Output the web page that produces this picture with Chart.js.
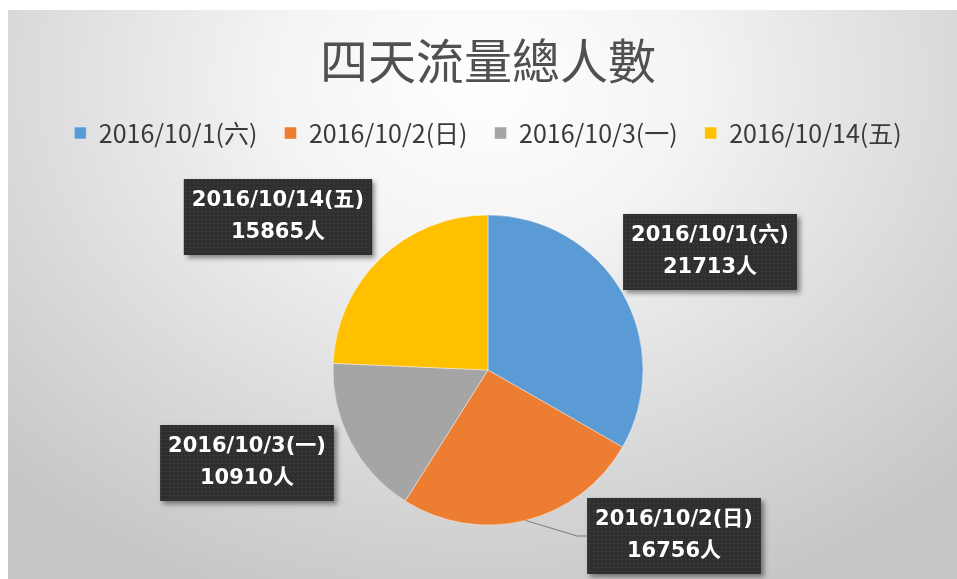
<!DOCTYPE html>
<html>
<head>
<meta charset="utf-8">
<script src="https://cdn.jsdelivr.net/npm/chart.js@4/dist/chart.umd.min.js"></script>
<style>
html, body { margin: 0; padding: 0; overflow: hidden; background: #fff; }
#wrap {
  position: absolute; left: 8px; top: 10px; width: 949px; height: 600px;
  background: radial-gradient(ellipse 72% 92% at 50% 12%, #ffffff 0%, #f4f4f4 30%, #d9d9d9 70%, #c6c6c6 100%);
}
</style>
</head>
<body>
<div id="wrap"><canvas id="chart"></canvas></div>
<script>
const days = ["2016/10/1(六)", "2016/10/2(日)", "2016/10/3(一)", "2016/10/14(五)"];
const visitors = [21713, 16756, 10910, 15865];
const sliceColors = ["#5b9bd5", "#ed7d31", "#a5a5a5", "#ffc000"];
const unit = "人";

// dotted texture for the dark label boxes
function dotPattern(ctx) {
  const c = document.createElement("canvas");
  c.width = 4; c.height = 4;
  const g = c.getContext("2d");
  g.fillStyle = "rgba(255,255,255,0.13)";
  g.fillRect(1, 1, 1, 1);
  return ctx.createPattern(c, "repeat");
}

const callouts = {
  id: "callouts",
  afterDatasetsDraw(chart, args, opts) {
    const ctx = chart.ctx;
    const meta = chart.getDatasetMeta(0);
    const pattern = dotPattern(ctx);
    meta.data.forEach((arc, i) => {
      const p = arc.getProps(["x", "y", "startAngle", "endAngle", "outerRadius"], true);
      const cx = p.x + opts.offsets[i][0];
      const cy = p.y + opts.offsets[i][1];
      const line1 = chart.data.labels[i];
      const line2 = chart.data.datasets[0].data[i] + unit;
      ctx.save();
      ctx.font = opts.font;
      const w = Math.max(ctx.measureText(line1).width, ctx.measureText(line2).width) + 16;
      const h = 76;
      if (opts.leaders[i]) {
        const mid = (p.startAngle + p.endAngle) / 2;
        const sx = p.x + Math.cos(mid) * p.outerRadius;
        const sy = p.y + Math.sin(mid) * p.outerRadius;
        ctx.strokeStyle = "#7a7a7a";
        ctx.lineWidth = 1;
        ctx.beginPath();
        ctx.moveTo(sx, sy);
        ctx.lineTo(cx - w / 2 - 10, cy);
        ctx.lineTo(cx - w / 2, cy);
        ctx.stroke();
      }
      ctx.shadowColor = "rgba(0,0,0,0.45)";
      ctx.shadowBlur = 5;
      ctx.shadowOffsetX = 3;
      ctx.shadowOffsetY = 3;
      ctx.fillStyle = "#2f2f2f";
      ctx.fillRect(cx - w / 2, cy - h / 2, w, h);
      ctx.shadowColor = "transparent";
      ctx.fillStyle = pattern;
      ctx.fillRect(cx - w / 2, cy - h / 2, w, h);
      ctx.fillStyle = "#ffffff";
      ctx.textAlign = "center";
      ctx.textBaseline = "middle";
      ctx.fillText(line1, cx, cy - 16);
      ctx.fillText(line2, cx, cy + 16);
      ctx.restore();
    });
  }
};

new Chart(document.getElementById("chart"), {
  type: "pie",
  data: {
    labels: days,
    datasets: [{
      data: visitors,
      backgroundColor: sliceColors,
      borderColor: "rgba(255,255,255,0.4)",
      borderWidth: 1,
      radius: 155
    }]
  },
  options: {
    responsive: true,
    maintainAspectRatio: false,
    animation: false,
    layout: { padding: { left: 11, right: 0, top: 0, bottom: 25.6 } },
    plugins: {
      title: {
        display: true,
        text: "四天流量總人數",
        color: "#505050",
        font: { family: "'Noto Sans CJK TC'", size: 48, weight: "normal" },
        padding: { top: 22, bottom: 4 }
      },
      legend: {
        position: "top",
        labels: {
          boxWidth: 12,
          boxHeight: 12,
          padding: 27,
          color: "#3a3a3a",
          font: { family: "'Noto Sans CJK TC'", size: 25 }
        }
      },
      tooltip: { enabled: false },
      callouts: {
        font: "bold 21px 'DejaVu Sans', 'Noto Sans CJK TC'",
        offsets: [[222, -118], [186, 166], [-241, 93], [-210, -153]],
        leaders: [false, true, false, false]
      }
    }
  },
  plugins: [callouts]
});
</script>
</body>
</html>
